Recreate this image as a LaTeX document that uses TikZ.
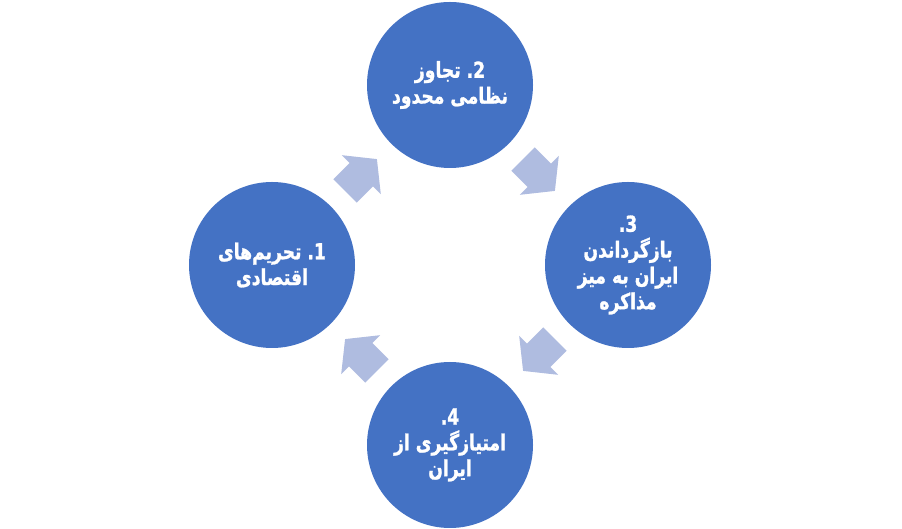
\documentclass[tikz,border=0pt]{standalone}
\usepackage{fontspec}
\newfontfamily\fa[Script=Arabic, FakeStretch=0.78, FakeBold=1.2]{DejaVu Sans}
\TeXXeTstate=1
\usetikzlibrary{calc}
\definecolor{circblue}{HTML}{4472C4}
\definecolor{arrblue}{RGB}{175,188,224}
\newcommand\rline[1]{\beginR #1\endR}
\newcommand\numdot[1]{\hbox{.}\kern0pt\hbox{#1}}
\tikzset{
  circ/.style={circle, fill=circblue, minimum size=166pt, inner sep=0pt,
    text=white, align=center, font=\fa\bfseries\fontsize{22}{25.8}\selectfont},
  blockarr/.style={fill=arrblue, draw=none},
}
\newcommand\blockarrow[2]{%
  \fill[blockarr, shift={(#1)}, rotate=#2]
    (-22.5,-16.5) -- (0.5,-16.5) -- (0.5,-27.5) -- (22.5,0) --
    (0.5,27.5) -- (0.5,16.5) -- (-22.5,16.5) -- cycle;}
\begin{document}
\begin{tikzpicture}[x=1pt,y=1pt]
\useasboundingbox (0,0) rectangle (902,529);
\node[circ] (c1) at (272,264) {\rline{تحریم‌های}\ \numdot{1}\\\rline{اقتصادی}};
\node[circ] (c2) at (450,444) {\rline{تجاوز}\ \numdot{2}\\\rline{نظامی محدود}};
\node[circ] (c3) at (628,264) {\numdot{3}\\\rline{بازگرداندن}\\\rline{ایران به میز}\\\rline{مذاکره}};
\node[circ] (c4) at (450,84) {\numdot{4}\\\rline{امتیازگیری از}\\\rline{ایران}};
\coordinate (m12) at ($(c1)!0.5!(c2)$);
\coordinate (m23) at ($(c2)!0.5!(c3)$);
\coordinate (m34) at ($(c3)!0.5!(c4)$);
\coordinate (m41) at ($(c4)!0.5!(c1)$);
\blockarrow{m12}{45}
\blockarrow{m23}{-45}
\blockarrow{m34}{-135}
\blockarrow{m41}{135}
\end{tikzpicture}
\end{document}
